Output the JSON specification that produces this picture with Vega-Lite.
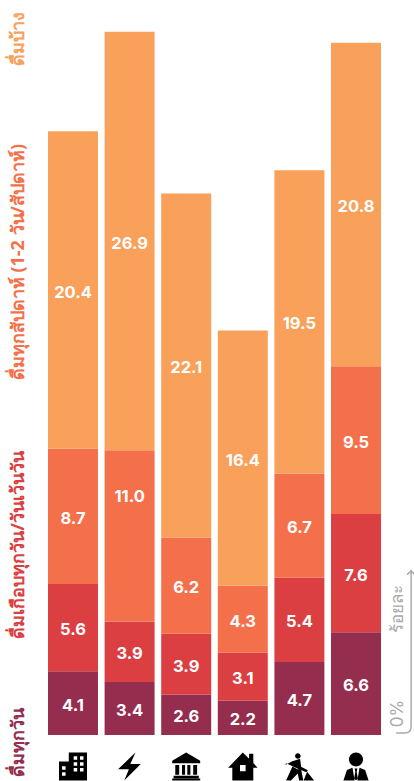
{"$schema":"https://vega.github.io/schema/vega-lite/v6.json","width":414,"height":781,"padding":0,"autosize":{"type":"fit","contains":"padding"},"background":"white","view":{"stroke":null},"config":{"axis":{"disable":true}},
"datasets":{"bars":[
{"cat":"office","level":1,"series":"ดื่มทุกวัน","value":4.1},{"cat":"office","level":2,"series":"ดื่มเกือบทุกวัน/วันเว้นวัน","value":5.6},{"cat":"office","level":3,"series":"ดื่มทุกสัปดาห์ (1-2 วัน/สัปดาห์)","value":8.7},{"cat":"office","level":4,"series":"ดื่มบ้าง","value":20.4},
{"cat":"energy","level":1,"series":"ดื่มทุกวัน","value":3.4},{"cat":"energy","level":2,"series":"ดื่มเกือบทุกวัน/วันเว้นวัน","value":3.9},{"cat":"energy","level":3,"series":"ดื่มทุกสัปดาห์ (1-2 วัน/สัปดาห์)","value":11.0},{"cat":"energy","level":4,"series":"ดื่มบ้าง","value":26.9},
{"cat":"government","level":1,"series":"ดื่มทุกวัน","value":2.6},{"cat":"government","level":2,"series":"ดื่มเกือบทุกวัน/วันเว้นวัน","value":3.9},{"cat":"government","level":3,"series":"ดื่มทุกสัปดาห์ (1-2 วัน/สัปดาห์)","value":6.2},{"cat":"government","level":4,"series":"ดื่มบ้าง","value":22.1},
{"cat":"household","level":1,"series":"ดื่มทุกวัน","value":2.2},{"cat":"household","level":2,"series":"ดื่มเกือบทุกวัน/วันเว้นวัน","value":3.1},{"cat":"household","level":3,"series":"ดื่มทุกสัปดาห์ (1-2 วัน/สัปดาห์)","value":4.3},{"cat":"household","level":4,"series":"ดื่มบ้าง","value":16.4},
{"cat":"construction","level":1,"series":"ดื่มทุกวัน","value":4.7},{"cat":"construction","level":2,"series":"ดื่มเกือบทุกวัน/วันเว้นวัน","value":5.4},{"cat":"construction","level":3,"series":"ดื่มทุกสัปดาห์ (1-2 วัน/สัปดาห์)","value":6.7},{"cat":"construction","level":4,"series":"ดื่มบ้าง","value":19.5},
{"cat":"business","level":1,"series":"ดื่มทุกวัน","value":6.6},{"cat":"business","level":2,"series":"ดื่มเกือบทุกวัน/วันเว้นวัน","value":7.6},{"cat":"business","level":3,"series":"ดื่มทุกสัปดาห์ (1-2 วัน/สัปดาห์)","value":9.5},{"cat":"business","level":4,"series":"ดื่มบ้าง","value":20.8}],
"cats":[{"cat":"office"},{"cat":"energy"},{"cat":"government"},{"cat":"household"},{"cat":"construction"},{"cat":"business"}]},
"encoding":{"x":{"field":"cat","type":"nominal","axis":null,"sort":null,"scale":{"type":"band","domain":["label","office","energy","government","household","construction","business","note"],"range":[-8.6,437.6],"paddingInner":0.117,"paddingOuter":0}}},
"layer":[
{"data":{"name":"bars"},"mark":{"type":"bar"},"encoding":{"y":{"field":"value","type":"quantitative","stack":"zero","axis":null,"scale":{"domain":[-2.956,47.24],"nice":false,"zero":false}},"order":{"field":"level"},"color":{"field":"series","type":"nominal","legend":null,"scale":{"domain":["ดื่มทุกวัน","ดื่มเกือบทุกวัน/วันเว้นวัน","ดื่มทุกสัปดาห์ (1-2 วัน/สัปดาห์)","ดื่มบ้าง"],"range":["#952D4F","#DB3F42","#F4704A","#F9A05A"]}}}},
{"data":{"name":"bars"},"mark":{"type":"text","color":"white","font":"Inter","fontWeight":"bold","fontSize":16.5,"dy":2.5},"encoding":{"y":{"field":"value","type":"quantitative","stack":"zero","bandPosition":0.5},"order":{"field":"level"},"detail":{"field":"series"},"text":{"condition":{"test":"datum.cat === 'energy' && datum.level === 3","value":""},"field":"value","type":"quantitative","format":".1f"}}},
{"data":{"values":[{"cat":"energy","value":11.0}]},"mark":{"type":"text","color":"white","font":"Inter","fontWeight":"bold","fontSize":16.5},"encoding":{"y":{"datum":15.3},"text":{"field":"value","type":"quantitative","format":".1f"}}},
{"data":{"name":"cats"},"mark":{"type":"point","filled":true,"size":784,"opacity":1,"color":"black","strokeWidth":0},"encoding":{"y":{"datum":-2.02},"shape":{"field":"cat","type":"nominal","legend":null,"scale":{"domain":["office","energy","government","household","construction","business"],"range":[
"M-1 -.35H-.3V-1H1V1H-1ZM.05 -.72V-.47H.3V-.72ZM.5 -.72V-.47H.75V-.72ZM.05 -.3V-.05H.3V-.3ZM.5 -.3V-.05H.75V-.3ZM.05 .12V.37H.3V.12ZM.5 .12V.37H.75V.12ZM-.78 -.02V.23H-.53V-.02ZM-.78 .42V.67H-.53V.42Z",
"M.42 -1L-.82 .2H-.05L-.38 1L.8 -.18H.05Z",
"M0 -1L1 -.4V-.22H-1V-.4ZM-.78 -.1H-.5V.6H-.78ZM-.3 -.1H-.08V.6H-.3ZM.08 -.1H.3V.6H.08ZM.5 -.1H.78V.6H.5ZM-.9 .66H.9V.84H-.9ZM-1 .86H1V1H-1Z",
"M0 -1L.45 -.55V-.9H.75V-.25L1.05 .1H.75V1H-.75V.1H-1.05ZM-.2 -.1V.35H.2V-.1Z",
"M-.31 -.75A.2 .2 0 1 0 .09 -.75A.2 .2 0 1 0 -.31 -.75ZM-.55 -.35L.05 -.55L.12 .02L.6 .28L.5 .42L-.03 .2L-.95 -.22L-1 -.1ZM-.5 0L-.15 .2H.12L.28 1H-.02L-.12 .5L-.6 1H-.95ZM.3 1L.55 .38L1.05 1Z",
"M-.5 -.5A.5 .5 0 1 0 .5 -.5A.5 .5 0 1 0 -.5 -.5ZM-.9 1L-.65 .25L-.25 .1L-.1 1ZM.9 1L.1 1L.25 .1L.65 .25ZM-.1 .15H.1L.05 .4L.13 .85L0 1L-.13 .85L-.05 .4Z"]}}}},
{"data":{"values":[{"series":"ดื่มทุกวัน"}]},"mark":{"type":"text","angle":270,"align":"left","baseline":"middle","font":"Noto Sans","fontWeight":"bold","fontSize":18,"xOffset":2.5},"encoding":{"x":{"datum":"label"},"y":{"datum":-2.7},"text":{"field":"series"},"color":{"field":"series","type":"nominal","legend":null}}},
{"data":{"values":[{"series":"ดื่มเกือบทุกวัน/วันเว้นวัน"}]},"mark":{"type":"text","angle":270,"align":"left","baseline":"middle","font":"Noto Sans","fontWeight":"bold","fontSize":18,"xOffset":2.5},"encoding":{"x":{"datum":"label"},"y":{"datum":6.2},"text":{"field":"series"},"color":{"field":"series","type":"nominal","legend":null}}},
{"data":{"values":[{"series":"ดื่มทุกสัปดาห์ (1-2 วัน/สัปดาห์)"}]},"mark":{"type":"text","angle":270,"align":"left","baseline":"middle","font":"Noto Sans","fontWeight":"bold","fontSize":18,"xOffset":2.5},"encoding":{"x":{"datum":"label"},"y":{"datum":22.8},"text":{"field":"series"},"color":{"field":"series","type":"nominal","legend":null}}},
{"data":{"values":[{"series":"ดื่มบ้าง"}]},"mark":{"type":"text","angle":270,"align":"left","baseline":"middle","font":"Noto Sans","fontWeight":"bold","fontSize":18,"xOffset":2.5},"encoding":{"x":{"datum":"label"},"y":{"datum":43.0},"text":{"field":"series"},"color":{"field":"series","type":"nominal","legend":null}}},
{"data":{"values":[{"note":"0%"}]},"mark":{"type":"text","angle":270,"align":"left","baseline":"middle","font":"Inter","fontSize":17,"color":"#aaaaaa","xOffset":-15},"encoding":{"x":{"datum":"note"},"y":{"datum":0.5},"text":{"field":"note"}}},
{"data":{"values":[{"note":"ร้อยละ"}]},"mark":{"type":"text","angle":270,"align":"left","baseline":"middle","font":"Noto Sans","fontSize":17,"color":"#aaaaaa","xOffset":-15},"encoding":{"x":{"datum":"note"},"y":{"datum":6.55},"text":{"field":"note"}}},
{"data":{"values":[{"from":0.5,"to":10.6}]},"mark":{"type":"rule","color":"#aaaaaa","strokeWidth":1.5,"xOffset":-1.5},"encoding":{"x":{"datum":"note"},"y":{"field":"from","type":"quantitative"},"y2":{"field":"to"}}},
{"data":{"values":[{"at":10.45}]},"mark":{"type":"point","filled":false,"size":100,"opacity":1,"color":"#aaaaaa","strokeWidth":1.5,"xOffset":-1.5,"shape":"M-.8 .45L0 -.3L.8 .45"},"encoding":{"x":{"datum":"note"},"y":{"field":"at","type":"quantitative"}}},
{"data":{"values":[{"at":0.2}]},"mark":{"type":"point","filled":false,"size":400,"opacity":1,"color":"#aaaaaa","strokeWidth":1.5,"xOffset":-9,"shape":"M.75 -.5C.75 -.1 .5 .1 .1 .1H-.75"},"encoding":{"x":{"datum":"note"},"y":{"field":"at","type":"quantitative"}}}
]}
